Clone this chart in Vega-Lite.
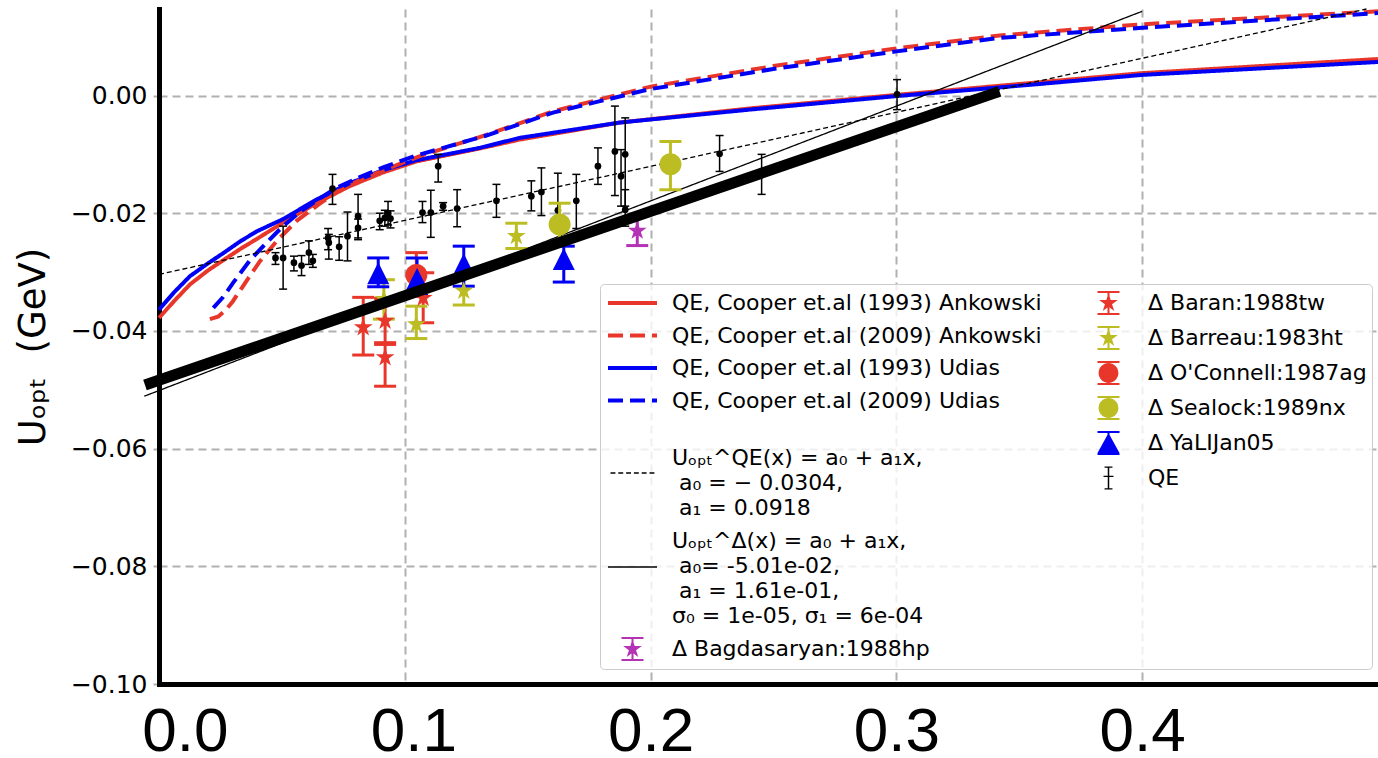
{
  "$schema": "https://vega.github.io/schema/vega-lite/v6.json",
  "width": 1219,
  "height": 675,
  "autosize": {"type": "none"},
  "padding": {"left": 159, "top": 9, "right": 0, "bottom": 74},
  "background": "white",
  "config": {"view": {"stroke": null}, "font": "DejaVu Sans", "style": {"guide-label": {"lineHeight": 25}}},
  "resolve": {"scale": {"fill": "independent", "shape": "independent"}},
  "datasets": {
    "curves": [
      {"s": "QE, Cooper et.al (1993) Ankowski", "x": 0.0, "y": -0.0378},
      {"s": "QE, Cooper et.al (1993) Ankowski", "x": 0.006, "y": -0.035},
      {"s": "QE, Cooper et.al (1993) Ankowski", "x": 0.0126, "y": -0.0321},
      {"s": "QE, Cooper et.al (1993) Ankowski", "x": 0.02, "y": -0.0297},
      {"s": "QE, Cooper et.al (1993) Ankowski", "x": 0.0261, "y": -0.028},
      {"s": "QE, Cooper et.al (1993) Ankowski", "x": 0.033, "y": -0.0261},
      {"s": "QE, Cooper et.al (1993) Ankowski", "x": 0.0397, "y": -0.0244},
      {"s": "QE, Cooper et.al (1993) Ankowski", "x": 0.0505, "y": -0.0216},
      {"s": "QE, Cooper et.al (1993) Ankowski", "x": 0.064, "y": -0.0183},
      {"s": "QE, Cooper et.al (1993) Ankowski", "x": 0.0776, "y": -0.0154},
      {"s": "QE, Cooper et.al (1993) Ankowski", "x": 0.091, "y": -0.0131},
      {"s": "QE, Cooper et.al (1993) Ankowski", "x": 0.1047, "y": -0.0112},
      {"s": "QE, Cooper et.al (1993) Ankowski", "x": 0.1305, "y": -0.009},
      {"s": "QE, Cooper et.al (1993) Ankowski", "x": 0.1467, "y": -0.0075},
      {"s": "QE, Cooper et.al (1993) Ankowski", "x": 0.1874, "y": -0.0046},
      {"s": "QE, Cooper et.al (1993) Ankowski", "x": 0.2402, "y": -0.0022},
      {"s": "QE, Cooper et.al (1993) Ankowski", "x": 0.3, "y": 0.0001},
      {"s": "QE, Cooper et.al (1993) Ankowski", "x": 0.354, "y": 0.0021},
      {"s": "QE, Cooper et.al (1993) Ankowski", "x": 0.4, "y": 0.0038},
      {"s": "QE, Cooper et.al (1993) Ankowski", "x": 0.496, "y": 0.0062},
      {"s": "QE, Cooper et.al (1993) Udias", "x": 0.0, "y": -0.0364},
      {"s": "QE, Cooper et.al (1993) Udias", "x": 0.006, "y": -0.0335},
      {"s": "QE, Cooper et.al (1993) Udias", "x": 0.0126, "y": -0.0307},
      {"s": "QE, Cooper et.al (1993) Udias", "x": 0.02, "y": -0.0285},
      {"s": "QE, Cooper et.al (1993) Udias", "x": 0.0261, "y": -0.0268},
      {"s": "QE, Cooper et.al (1993) Udias", "x": 0.033, "y": -0.0248},
      {"s": "QE, Cooper et.al (1993) Udias", "x": 0.0397, "y": -0.0231},
      {"s": "QE, Cooper et.al (1993) Udias", "x": 0.0505, "y": -0.021},
      {"s": "QE, Cooper et.al (1993) Udias", "x": 0.064, "y": -0.0177},
      {"s": "QE, Cooper et.al (1993) Udias", "x": 0.0776, "y": -0.0149},
      {"s": "QE, Cooper et.al (1993) Udias", "x": 0.091, "y": -0.0127},
      {"s": "QE, Cooper et.al (1993) Udias", "x": 0.1047, "y": -0.011},
      {"s": "QE, Cooper et.al (1993) Udias", "x": 0.1305, "y": -0.0089},
      {"s": "QE, Cooper et.al (1993) Udias", "x": 0.1467, "y": -0.0072},
      {"s": "QE, Cooper et.al (1993) Udias", "x": 0.1874, "y": -0.0046},
      {"s": "QE, Cooper et.al (1993) Udias", "x": 0.2402, "y": -0.0024},
      {"s": "QE, Cooper et.al (1993) Udias", "x": 0.3, "y": -0.0001},
      {"s": "QE, Cooper et.al (1993) Udias", "x": 0.354, "y": 0.0018},
      {"s": "QE, Cooper et.al (1993) Udias", "x": 0.4, "y": 0.0035},
      {"s": "QE, Cooper et.al (1993) Udias", "x": 0.496, "y": 0.0057},
      {"s": "QE, Cooper et.al (2009) Ankowski", "x": 0.0207, "y": -0.038},
      {"s": "QE, Cooper et.al (2009) Ankowski", "x": 0.024, "y": -0.0376},
      {"s": "QE, Cooper et.al (2009) Ankowski", "x": 0.027, "y": -0.0365},
      {"s": "QE, Cooper et.al (2009) Ankowski", "x": 0.03, "y": -0.035},
      {"s": "QE, Cooper et.al (2009) Ankowski", "x": 0.034, "y": -0.0325},
      {"s": "QE, Cooper et.al (2009) Ankowski", "x": 0.041, "y": -0.0282},
      {"s": "QE, Cooper et.al (2009) Ankowski", "x": 0.048, "y": -0.0247},
      {"s": "QE, Cooper et.al (2009) Ankowski", "x": 0.056, "y": -0.0213},
      {"s": "QE, Cooper et.al (2009) Ankowski", "x": 0.065, "y": -0.0185},
      {"s": "QE, Cooper et.al (2009) Ankowski", "x": 0.0722, "y": -0.0164},
      {"s": "QE, Cooper et.al (2009) Ankowski", "x": 0.082, "y": -0.0143},
      {"s": "QE, Cooper et.al (2009) Ankowski", "x": 0.0912, "y": -0.0127},
      {"s": "QE, Cooper et.al (2009) Ankowski", "x": 0.1075, "y": -0.0101},
      {"s": "QE, Cooper et.al (2009) Ankowski", "x": 0.1332, "y": -0.0067},
      {"s": "QE, Cooper et.al (2009) Ankowski", "x": 0.1603, "y": -0.0027},
      {"s": "QE, Cooper et.al (2009) Ankowski", "x": 0.179, "y": -0.0007},
      {"s": "QE, Cooper et.al (2009) Ankowski", "x": 0.2, "y": 0.0015},
      {"s": "QE, Cooper et.al (2009) Ankowski", "x": 0.25, "y": 0.005},
      {"s": "QE, Cooper et.al (2009) Ankowski", "x": 0.3, "y": 0.008},
      {"s": "QE, Cooper et.al (2009) Ankowski", "x": 0.342, "y": 0.0102},
      {"s": "QE, Cooper et.al (2009) Ankowski", "x": 0.4, "y": 0.0121},
      {"s": "QE, Cooper et.al (2009) Ankowski", "x": 0.496, "y": 0.0143},
      {"s": "QE, Cooper et.al (2009) Udias", "x": 0.0221, "y": -0.0361},
      {"s": "QE, Cooper et.al (2009) Udias", "x": 0.026, "y": -0.0343},
      {"s": "QE, Cooper et.al (2009) Udias", "x": 0.0302, "y": -0.0318},
      {"s": "QE, Cooper et.al (2009) Udias", "x": 0.037, "y": -0.028},
      {"s": "QE, Cooper et.al (2009) Udias", "x": 0.0438, "y": -0.025},
      {"s": "QE, Cooper et.al (2009) Udias", "x": 0.05, "y": -0.0224},
      {"s": "QE, Cooper et.al (2009) Udias", "x": 0.0573, "y": -0.0198},
      {"s": "QE, Cooper et.al (2009) Udias", "x": 0.065, "y": -0.0176},
      {"s": "QE, Cooper et.al (2009) Udias", "x": 0.0722, "y": -0.0157},
      {"s": "QE, Cooper et.al (2009) Udias", "x": 0.082, "y": -0.0138},
      {"s": "QE, Cooper et.al (2009) Udias", "x": 0.0912, "y": -0.0122},
      {"s": "QE, Cooper et.al (2009) Udias", "x": 0.1047, "y": -0.0102},
      {"s": "QE, Cooper et.al (2009) Udias", "x": 0.1332, "y": -0.0068},
      {"s": "QE, Cooper et.al (2009) Udias", "x": 0.1603, "y": -0.0029},
      {"s": "QE, Cooper et.al (2009) Udias", "x": 0.179, "y": -0.001},
      {"s": "QE, Cooper et.al (2009) Udias", "x": 0.2, "y": 0.0011},
      {"s": "QE, Cooper et.al (2009) Udias", "x": 0.25, "y": 0.0045},
      {"s": "QE, Cooper et.al (2009) Udias", "x": 0.3, "y": 0.0075},
      {"s": "QE, Cooper et.al (2009) Udias", "x": 0.342, "y": 0.0098},
      {"s": "QE, Cooper et.al (2009) Udias", "x": 0.4, "y": 0.0115},
      {"s": "QE, Cooper et.al (2009) Udias", "x": 0.496, "y": 0.014}
    ],
    "fits": [
      {"s": "Uₒₚₜ^QE(x) = a₀ + a₁x", "x": 0.0, "y": -0.0304},
      {"s": "Uₒₚₜ^QE(x) = a₀ + a₁x", "x": 0.4913, "y": 0.0147},
      {"s": "Uₒₚₜ^Δ(x) = a₀ + a₁x", "x": -0.006, "y": -0.0511},
      {"s": "Uₒₚₜ^Δ(x) = a₀ + a₁x", "x": 0.4, "y": 0.0143}
    ],
    "thick": [
      {"x": -0.0057, "y": -0.0492},
      {"x": 0.342, "y": 0.0007}
    ],
    "pts": [
      {"s": "QE", "x": 0.0474, "y": -0.0276, "lo": -0.0287, "hi": -0.0267},
      {"s": "QE", "x": 0.0505, "y": -0.0276, "lo": -0.0329, "hi": -0.0222},
      {"s": "QE", "x": 0.0549, "y": -0.0284, "lo": -0.0298, "hi": -0.0273},
      {"s": "QE", "x": 0.058, "y": -0.0289, "lo": -0.0306, "hi": -0.0272},
      {"s": "QE", "x": 0.061, "y": -0.0267, "lo": -0.0287, "hi": -0.0247},
      {"s": "QE", "x": 0.0626, "y": -0.0281, "lo": -0.0292, "hi": -0.027},
      {"s": "QE", "x": 0.0688, "y": -0.0242, "lo": -0.0262, "hi": -0.0226},
      {"s": "QE", "x": 0.0691, "y": -0.025, "lo": -0.0278, "hi": -0.0236},
      {"s": "QE", "x": 0.0706, "y": -0.0158, "lo": -0.0185, "hi": -0.0134},
      {"s": "QE", "x": 0.0733, "y": -0.0257, "lo": -0.028, "hi": -0.024},
      {"s": "QE", "x": 0.0767, "y": -0.0239, "lo": -0.0281, "hi": -0.0198},
      {"s": "QE", "x": 0.081, "y": -0.0225, "lo": -0.0242, "hi": -0.021},
      {"s": "QE", "x": 0.081, "y": -0.0205, "lo": -0.0245, "hi": -0.0168},
      {"s": "QE", "x": 0.0898, "y": -0.0213, "lo": -0.0228, "hi": -0.02},
      {"s": "QE", "x": 0.0919, "y": -0.0208, "lo": -0.0222, "hi": -0.0195},
      {"s": "QE", "x": 0.0932, "y": -0.02, "lo": -0.022, "hi": -0.018},
      {"s": "QE", "x": 0.0942, "y": -0.0209, "lo": -0.0225, "hi": -0.0196},
      {"s": "QE", "x": 0.1072, "y": -0.0199, "lo": -0.0216, "hi": -0.018},
      {"s": "QE", "x": 0.1106, "y": -0.0199, "lo": -0.0241, "hi": -0.0161},
      {"s": "QE", "x": 0.1136, "y": -0.012, "lo": -0.0147, "hi": -0.01},
      {"s": "QE", "x": 0.1156, "y": -0.0188, "lo": -0.0195, "hi": -0.0182},
      {"s": "QE", "x": 0.1213, "y": -0.0192, "lo": -0.0223, "hi": -0.016},
      {"s": "QE", "x": 0.1373, "y": -0.0179, "lo": -0.0207, "hi": -0.0151},
      {"s": "QE", "x": 0.1515, "y": -0.0171, "lo": -0.0196, "hi": -0.0145},
      {"s": "QE", "x": 0.1556, "y": -0.0164, "lo": -0.0204, "hi": -0.0123},
      {"s": "QE", "x": 0.1623, "y": -0.0195, "lo": -0.0205, "hi": -0.0132},
      {"s": "QE", "x": 0.1698, "y": -0.0179, "lo": -0.0226, "hi": -0.0134},
      {"s": "QE", "x": 0.1786, "y": -0.012, "lo": -0.0151, "hi": -0.0089},
      {"s": "QE", "x": 0.1855, "y": -0.0095, "lo": -0.017, "hi": -0.0018},
      {"s": "QE", "x": 0.188, "y": -0.0137, "lo": -0.0188, "hi": -0.0092},
      {"s": "QE", "x": 0.1897, "y": -0.01, "lo": -0.0188, "hi": -0.0038},
      {"s": "QE", "x": 0.1897, "y": -0.0194, "lo": -0.0222, "hi": -0.016},
      {"s": "QE", "x": 0.2281, "y": -0.0099, "lo": -0.0129, "hi": -0.0068},
      {"s": "QE", "x": 0.2452, "y": -0.0134, "lo": -0.0168, "hi": -0.01},
      {"s": "QE", "x": 0.3003, "y": 0.0002, "lo": -0.0024, "hi": 0.0027},
      {"s": "Δ Baran:1988tw", "x": 0.0831, "y": -0.0394, "lo": -0.0441, "hi": -0.0343},
      {"s": "Δ Baran:1988tw", "x": 0.092, "y": -0.0383, "lo": -0.042, "hi": -0.0345},
      {"s": "Δ Baran:1988tw", "x": 0.092, "y": -0.0445, "lo": -0.0494, "hi": -0.0423},
      {"s": "Δ Baran:1988tw", "x": 0.1075, "y": -0.0344, "lo": -0.0386, "hi": -0.0301},
      {"s": "Δ Barreau:1983ht", "x": 0.0915, "y": -0.0346, "lo": -0.038, "hi": -0.0313},
      {"s": "Δ Barreau:1983ht", "x": 0.1047, "y": -0.0389, "lo": -0.0413, "hi": -0.0358},
      {"s": "Δ Barreau:1983ht", "x": 0.124, "y": -0.0332, "lo": -0.0356, "hi": -0.0305},
      {"s": "Δ Barreau:1983ht", "x": 0.1454, "y": -0.0239, "lo": -0.026, "hi": -0.0217},
      {"s": "Δ O'Connell:1987ag", "x": 0.1047, "y": -0.0305, "lo": -0.0341, "hi": -0.0267},
      {"s": "Δ Sealock:1989nx", "x": 0.163, "y": -0.0219, "lo": -0.0253, "hi": -0.0183},
      {"s": "Δ Sealock:1989nx", "x": 0.2081, "y": -0.0117, "lo": -0.016, "hi": -0.0078},
      {"s": "Δ YaLIJan05", "x": 0.0892, "y": -0.0302, "lo": -0.0325, "hi": -0.0276},
      {"s": "Δ YaLIJan05", "x": 0.105, "y": -0.0312, "lo": -0.034, "hi": -0.0276},
      {"s": "Δ YaLIJan05", "x": 0.124, "y": -0.0287, "lo": -0.0324, "hi": -0.0256},
      {"s": "Δ YaLIJan05", "x": 0.1647, "y": -0.0278, "lo": -0.0317, "hi": -0.0256},
      {"s": "Δ Bagdasaryan:1988hp", "x": 0.1946, "y": -0.023, "lo": -0.0255, "hi": -0.0205}
    ]
  },
  "layer": [
    {
      "mark": {"type": "rule", "color": "black", "strokeWidth": 5, "strokeDash": [20, 9]},
      "encoding": {"y": {"datum": 0, "type": "quantitative"}}
    },
    {
      "data": {"name": "curves"},
      "mark": {"type": "line", "strokeWidth": 4},
      "encoding": {
        "x": {
          "field": "x", "type": "quantitative",
          "scale": {"domain": [0, 0.496], "nice": false, "zero": false},
          "axis": {
            "values": [0, 0.1, 0.2, 0.3, 0.4], "format": ".1f", "title": null,
            "labelExpr": "datum.value == 0 ? '\u200b\u00a0\u00a0\u00a0' + datum.label : (datum.value < 0.15 ? '\u200b\u00a0' + datum.label : datum.label)",
            "labelFont": "Liberation Sans", "labelFontSize": 62, "labelColor": "black", "labelPadding": 17,
            "ticks": false, "tickSize": 0,
            "domainColor": "black", "domainWidth": 5, "domainCap": "square",
            "grid": true, "gridColor": "#b0b0b0", "gridDash": [8, 5], "gridWidth": 2,
            "labelFlush": false, "labelOverlap": false, "labelBound": false
          }
        },
        "y": {
          "field": "y", "type": "quantitative",
          "scale": {"domain": [-0.1, 0.0147], "nice": false, "zero": false},
          "axis": {
            "values": [-0.1, -0.08, -0.06, -0.04, -0.02, 0], "format": ".2f",
            "title": "Uₒₚₜ\u00a0 (GeV)", "titleFont": "DejaVu Sans", "titleFontSize": 37, "titleFontWeight": "normal", "titleColor": "black", "titlePadding": 18,
            "labelFont": "DejaVu Sans", "labelFontSize": 25, "labelColor": "black", "labelPadding": 6,
            "tickSize": 6, "tickColor": "#b0b0b0", "tickWidth": 2,
            "domainColor": "black", "domainWidth": 5, "domainCap": "square",
            "grid": true, "gridColor": "#b0b0b0", "gridDash": [8, 5], "gridWidth": 2,
            "labelFlush": false, "labelOverlap": false, "labelBound": false
          }
        },
        "color": {
          "field": "s", "type": "nominal",
          "scale": {
            "domain": ["QE, Cooper et.al (1993) Ankowski", "QE, Cooper et.al (2009) Ankowski", "QE, Cooper et.al (1993) Udias", "QE, Cooper et.al (2009) Udias", "Uₒₚₜ^QE(x) = a₀ + a₁x", "Uₒₚₜ^Δ(x) = a₀ + a₁x", "Δ Bagdasaryan:1988hp", "Δ Baran:1988tw", "Δ Barreau:1983ht", "Δ O'Connell:1987ag", "Δ Sealock:1989nx", "Δ YaLIJan05", "QE"],
            "range": ["#e8372a", "#e8372a", "#0000f5", "#0000f5", "#000000", "#000000", "#b432b4", "#e8372a", "#bcbd22", "#e8372a", "#bcbd22", "#0000f5", "#000000"]
          },
          "legend": null
        },
        "strokeDash": {
          "field": "s", "type": "nominal",
          "scale": {
            "domain": ["QE, Cooper et.al (1993) Ankowski", "QE, Cooper et.al (2009) Ankowski", "QE, Cooper et.al (1993) Udias", "QE, Cooper et.al (2009) Udias", "Uₒₚₜ^QE(x) = a₀ + a₁x", "Uₒₚₜ^Δ(x) = a₀ + a₁x"],
            "range": [[1, 0], [15, 7], [1, 0], [15, 7], [5, 3], [1, 0]]
          },
          "legend": null
        }
      }
    },
    {
      "data": {"name": "fits"},
      "mark": {"type": "line", "strokeWidth": 1.3, "clip": false},
      "encoding": {
        "x": {"field": "x", "type": "quantitative"},
        "y": {"field": "y", "type": "quantitative"},
        "color": {"field": "s", "type": "nominal", "legend": null},
        "strokeDash": {"field": "s", "type": "nominal", "legend": null}
      }
    },
    {
      "data": {"name": "pts"},
      "transform": [{"filter": "datum.s == 'QE'"}],
      "mark": {"type": "rule", "color": "black", "strokeWidth": 1.5},
      "encoding": {
        "x": {"field": "x", "type": "quantitative"},
        "y": {"field": "lo", "type": "quantitative"},
        "y2": {"field": "hi"}
      }
    },
    {
      "data": {"name": "pts"},
      "transform": [{"filter": "datum.s == 'QE'"}],
      "mark": {"type": "tick", "orient": "horizontal", "color": "black", "size": 8, "thickness": 1.5, "opacity": 1},
      "encoding": {
        "x": {"field": "x", "type": "quantitative"},
        "y": {"field": "lo", "type": "quantitative"}
      }
    },
    {
      "data": {"name": "pts"},
      "transform": [{"filter": "datum.s == 'QE'"}],
      "mark": {"type": "tick", "orient": "horizontal", "color": "black", "size": 8, "thickness": 1.5, "opacity": 1},
      "encoding": {
        "x": {"field": "x", "type": "quantitative"},
        "y": {"field": "hi", "type": "quantitative"}
      }
    },
    {
      "data": {"name": "pts"},
      "transform": [{"filter": "datum.s == 'QE'"}],
      "mark": {"type": "point", "filled": true, "color": "black", "size": 45, "opacity": 1},
      "encoding": {
        "x": {"field": "x", "type": "quantitative"},
        "y": {"field": "y", "type": "quantitative"}
      }
    },
    {
      "data": {"name": "pts"},
      "transform": [{"filter": "datum.s != 'QE'"}],
      "mark": {"type": "rule", "strokeWidth": 3},
      "encoding": {
        "x": {"field": "x", "type": "quantitative"},
        "y": {"field": "lo", "type": "quantitative"},
        "y2": {"field": "hi"},
        "color": {"field": "s", "type": "nominal", "legend": null}
      }
    },
    {
      "data": {"name": "pts"},
      "transform": [{"filter": "datum.s != 'QE'"}],
      "mark": {"type": "tick", "orient": "horizontal", "size": 22, "thickness": 3, "opacity": 1},
      "encoding": {
        "x": {"field": "x", "type": "quantitative"},
        "y": {"field": "lo", "type": "quantitative"},
        "color": {"field": "s", "type": "nominal", "legend": null}
      }
    },
    {
      "data": {"name": "pts"},
      "transform": [{"filter": "datum.s != 'QE'"}],
      "mark": {"type": "tick", "orient": "horizontal", "size": 22, "thickness": 3, "opacity": 1},
      "encoding": {
        "x": {"field": "x", "type": "quantitative"},
        "y": {"field": "hi", "type": "quantitative"},
        "color": {"field": "s", "type": "nominal", "legend": null}
      }
    },
    {
      "data": {"name": "pts"},
      "transform": [{"filter": "indexof(datum.s, 'Baran') >= 0 || indexof(datum.s, 'Barreau') >= 0 || indexof(datum.s, 'Bagdasaryan') >= 0"}],
      "mark": {"type": "point", "filled": true, "size": 484, "opacity": 1, "shape": "M0,-0.9L0.202,-0.278L0.856,-0.278L0.327,0.106L0.529,0.728L0,0.344L-0.529,0.728L-0.327,0.106L-0.856,-0.278L-0.202,-0.278Z"},
      "encoding": {
        "x": {"field": "x", "type": "quantitative"},
        "y": {"field": "y", "type": "quantitative"},
        "color": {"field": "s", "type": "nominal", "legend": null}
      }
    },
    {
      "data": {"name": "pts"},
      "transform": [{"filter": "indexof(datum.s, 'Connell') >= 0 || indexof(datum.s, 'Sealock') >= 0"}],
      "mark": {"type": "point", "filled": true, "size": 484, "opacity": 1, "shape": "M-1,0A1,1,0,1,1,1,0A1,1,0,1,1,-1,0Z"},
      "encoding": {
        "x": {"field": "x", "type": "quantitative"},
        "y": {"field": "y", "type": "quantitative"},
        "color": {"field": "s", "type": "nominal", "legend": null}
      }
    },
    {
      "data": {"name": "pts"},
      "transform": [{"filter": "indexof(datum.s, 'YaLI') >= 0"}],
      "mark": {"type": "point", "filled": true, "size": 484, "opacity": 1, "shape": "M0,-1L1,1L-1,1Z"},
      "encoding": {
        "x": {"field": "x", "type": "quantitative"},
        "y": {"field": "y", "type": "quantitative"},
        "color": {"field": "s", "type": "nominal", "legend": null}
      }
    },
    {
      "data": {"name": "thick"},
      "mark": {"type": "line", "color": "black", "strokeWidth": 11, "strokeCap": "butt", "clip": false},
      "encoding": {
        "x": {"field": "x", "type": "quantitative"},
        "y": {"field": "y", "type": "quantitative"}
      }
    },
    {
      "mark": {"type": "rule", "color": "black", "strokeWidth": 5},
      "encoding": {"y": {"datum": 0.0147, "type": "quantitative"}}
    },
    {
      "data": {"name": "fits"},
      "mark": {"type": "point", "filled": true, "opacity": 0, "size": 10},
      "encoding": {
        "x": {"field": "x", "type": "quantitative"},
        "y": {"field": "y", "type": "quantitative"},
        "fill": {
          "field": "s", "type": "nominal",
          "scale": {
            "domain": ["QE, Cooper et.al (1993) Ankowski", "QE, Cooper et.al (2009) Ankowski", "QE, Cooper et.al (1993) Udias", "QE, Cooper et.al (2009) Udias", "Uₒₚₜ^QE(x) = a₀ + a₁x", "Uₒₚₜ^Δ(x) = a₀ + a₁x", "Δ Bagdasaryan:1988hp"],
            "range": ["#e8372a", "#e8372a", "#0000f5", "#0000f5", "#000000", "#000000", "#b432b4"]
          },
          "legend": {
            "title": null, "orient": "none", "legendX": 441, "legendY": 275, "direction": "vertical",
            "padding": 8, "fillColor": "rgba(255,255,255,0.8)", "strokeColor": "#cccccc", "cornerRadius": 4,
            "symbolSize": 484, "symbolStrokeWidth": 0, "symbolOpacity": 1,
            "labelFont": "DejaVu Sans", "labelFontSize": 22, "labelColor": "black", "labelOffset": 42, "labelLimit": 2000,
            "rowPadding": 10.5, "zindex": 1,
            "labelExpr": "indexof(datum.label, '(1993) Ankowski') >= 0 ? pad(datum.label, 78, '\u00a0') + '\u200b' : (indexof(datum.label, 'QE(x)') >= 0 ? ['', 'Uₒₚₜ^QE(x) = a₀ + a₁x,', '\u200b\u00a0a₀ = − 0.0304,', '\u200b\u00a0a₁ = 0.0918'] : (indexof(datum.label, 'Δ(x)') >= 0 ? ['Uₒₚₜ^Δ(x) = a₀ + a₁x,', '\u200b\u00a0a₀= -5.01e-02,', '\u200b\u00a0a₁ = 1.61e-01,', 'σ₀ = 1e-05, σ₁ = 6e-04'] : datum.label))"
          }
        },
        "shape": {
          "field": "s", "type": "nominal",
          "scale": {
            "domain": ["QE, Cooper et.al (1993) Ankowski", "QE, Cooper et.al (2009) Ankowski", "QE, Cooper et.al (1993) Udias", "QE, Cooper et.al (2009) Udias", "Uₒₚₜ^QE(x) = a₀ + a₁x", "Uₒₚₜ^Δ(x) = a₀ + a₁x", "Δ Bagdasaryan:1988hp"],
            "range": [
              "M-1,-0.182H3.455V0.182H-1Z",
              "M-1,-0.182H0.364V0.182H-1ZM1,-0.182H2.364V0.182H1ZM3,-0.182H3.455V0.182H3Z",
              "M-1,-0.182H3.455V0.182H-1Z",
              "M-1,-0.182H0.364V0.182H-1ZM1,-0.182H2.364V0.182H1ZM3,-0.182H3.455V0.182H3Z",
              "M-0.773,3.577H-0.327V3.695H-0.773ZM-0.064,3.577H0.382V3.695H-0.064ZM0.645,3.577H1.091V3.695H0.645ZM1.355,3.577H1.8V3.695H1.355ZM2.064,3.577H2.509V3.695H2.064ZM2.773,3.577H3.218V3.695H2.773Z",
              "M-1,2.35H3.455V2.468H-1Z",
              "M1.227,-0.89L1.427,-0.275L2.073,-0.275L1.55,0.105L1.75,0.72L1.227,0.34L0.704,0.72L0.904,0.105L0.381,-0.275L1.027,-0.275ZM1.136,-1H1.318V1H1.136ZM0.227,-1.09H2.227V-0.91H0.227ZM0.227,0.91H2.227V1.09H0.227Z"
            ]
          },
          "legend": {
            "title": null, "orient": "none", "legendX": 441, "legendY": 275, "direction": "vertical",
            "padding": 8, "fillColor": "rgba(255,255,255,0.8)", "strokeColor": "#cccccc", "cornerRadius": 4,
            "symbolSize": 484, "symbolStrokeWidth": 0, "symbolOpacity": 1,
            "labelFont": "DejaVu Sans", "labelFontSize": 22, "labelColor": "black", "labelOffset": 42, "labelLimit": 2000,
            "rowPadding": 10.5, "zindex": 1,
            "labelExpr": "indexof(datum.label, '(1993) Ankowski') >= 0 ? pad(datum.label, 78, '\u00a0') + '\u200b' : (indexof(datum.label, 'QE(x)') >= 0 ? ['', 'Uₒₚₜ^QE(x) = a₀ + a₁x,', '\u200b\u00a0a₀ = − 0.0304,', '\u200b\u00a0a₁ = 0.0918'] : (indexof(datum.label, 'Δ(x)') >= 0 ? ['Uₒₚₜ^Δ(x) = a₀ + a₁x,', '\u200b\u00a0a₀= -5.01e-02,', '\u200b\u00a0a₁ = 1.61e-01,', 'σ₀ = 1e-05, σ₁ = 6e-04'] : datum.label))"
          }
        }
      }
    },
    {
      "data": {"name": "pts"},
      "transform": [{"filter": "datum.s == 'QE'"}],
      "mark": {"type": "point", "filled": true, "opacity": 0, "size": 10},
      "encoding": {
        "x": {"field": "x", "type": "quantitative"},
        "y": {"field": "y", "type": "quantitative"},
        "fill": {
          "field": "s", "type": "nominal",
          "scale": {
            "domain": ["Δ Baran:1988tw", "Δ Barreau:1983ht", "Δ O'Connell:1987ag", "Δ Sealock:1989nx", "Δ YaLIJan05", "QE"],
            "range": ["#e8372a", "#bcbd22", "#e8372a", "#bcbd22", "#0000f5", "#000000"]
          },
          "legend": {
            "title": null, "orient": "none", "legendX": 917, "legendY": 275, "direction": "vertical",
            "padding": 8, "symbolSize": 484, "symbolStrokeWidth": 0, "symbolOpacity": 1,
            "labelFont": "DejaVu Sans", "labelFontSize": 22, "labelColor": "black", "labelOffset": 42, "labelLimit": 2000,
            "rowPadding": 11, "zindex": 2
          }
        },
        "shape": {
          "field": "s", "type": "nominal",
          "scale": {
            "domain": ["Δ Baran:1988tw", "Δ Barreau:1983ht", "Δ O'Connell:1987ag", "Δ Sealock:1989nx", "Δ YaLIJan05", "QE"],
            "range": [
              "M1.227,-0.89L1.427,-0.275L2.073,-0.275L1.55,0.105L1.75,0.72L1.227,0.34L0.704,0.72L0.904,0.105L0.381,-0.275L1.027,-0.275ZM1.136,-1H1.318V1H1.136ZM0.227,-1.09H2.227V-0.91H0.227ZM0.227,0.91H2.227V1.09H0.227Z",
              "M1.227,-0.89L1.427,-0.275L2.073,-0.275L1.55,0.105L1.75,0.72L1.227,0.34L0.704,0.72L0.904,0.105L0.381,-0.275L1.027,-0.275ZM1.136,-1H1.318V1H1.136ZM0.227,-1.09H2.227V-0.91H0.227ZM0.227,0.91H2.227V1.09H0.227Z",
              "M0.327,0A0.9,0.9,0,1,1,2.127,0A0.9,0.9,0,1,1,0.327,0ZM1.136,-1H1.318V1H1.136ZM0.227,-1.09H2.227V-0.91H0.227ZM0.227,0.91H2.227V1.09H0.227Z",
              "M0.327,0A0.9,0.9,0,1,1,2.127,0A0.9,0.9,0,1,1,0.327,0ZM1.136,-1H1.318V1H1.136ZM0.227,-1.09H2.227V-0.91H0.227ZM0.227,0.91H2.227V1.09H0.227Z",
              "M1.227,-0.9L2.227,0.9L0.227,0.9ZM1.136,-1H1.318V1H1.136ZM0.227,-1.09H2.227V-0.91H0.227ZM0.227,0.91H2.227V1.09H0.227Z",
              "M1.159,-1H1.295V1H1.159ZM0.867,-1.05H1.587V-0.93H0.867ZM0.867,0.93H1.587V1.05H0.867ZM0.777,-0.2H1.677V-0.08H0.777Z"
            ]
          },
          "legend": {
            "title": null, "orient": "none", "legendX": 917, "legendY": 275, "direction": "vertical",
            "padding": 8, "symbolSize": 484, "symbolStrokeWidth": 0, "symbolOpacity": 1,
            "labelFont": "DejaVu Sans", "labelFontSize": 22, "labelColor": "black", "labelOffset": 42, "labelLimit": 2000,
            "rowPadding": 11, "zindex": 2
          }
        }
      }
    }
  ]
}
